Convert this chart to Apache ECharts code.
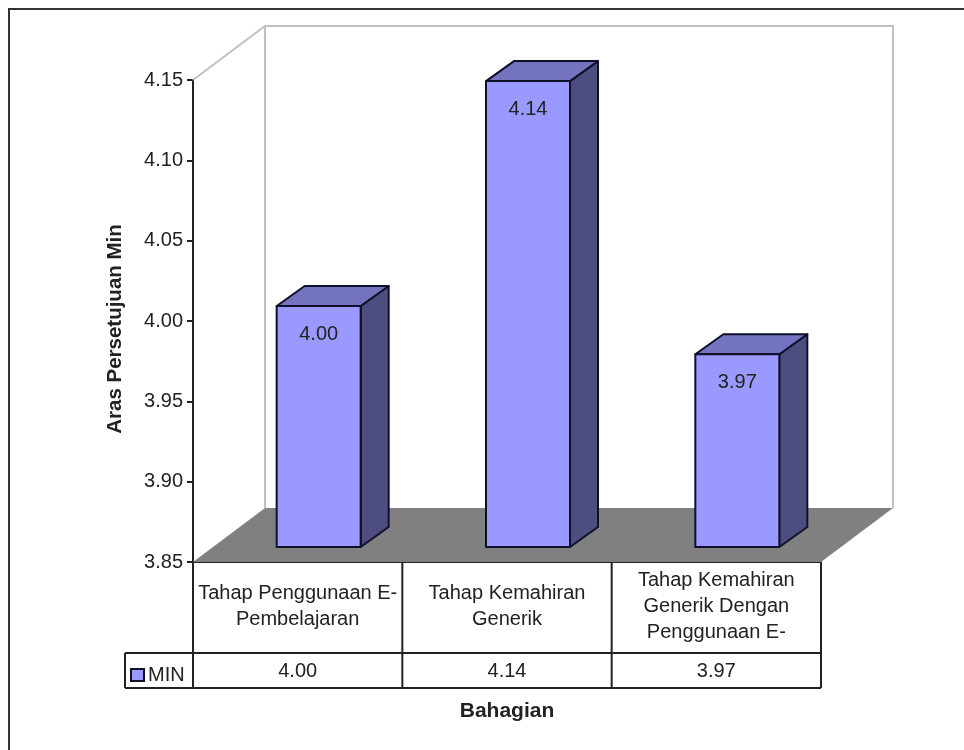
<!DOCTYPE html>
<html>
<head>
<meta charset="utf-8">
<style>
  html, body { margin: 0; padding: 0; background: #fff; }
  #chart { width: 964px; height: 750px; }
</style>
<script src="https://cdn.jsdelivr.net/npm/echarts@6/dist/echarts.min.js"></script>
</head>
<body>
<div id="chart"></div>
<script>
const categories = [
  'Tahap Penggunaan E-\nPembelajaran',
  'Tahap Kemahiran\nGenerik',
  'Tahap Kemahiran\nGenerik Dengan\nPenggunaan E-'
]
const minValues = [4.00, 4.14, 3.97]
const seriesName = 'MIN'

const font = '"Liberation Sans", Arial, sans-serif'
const inkColor = '#222'
const frontColor = '#9999ff'
const sideColor = '#4d4d80'
const topColor = '#7373bf'

// fake 3d offsets, in pixels
const floorDx = 72
const floorDy = -54
const barDx = 28
const barDy = -20
const barShiftX = 21
const barShiftY = -15
const barWidth = 84

// back wall and floor
function renderWalls(params, api) {
  const c = params.coordSys
  const l = c.x, r = c.x + c.width, t = c.y, b = c.y + c.height
  return {
    type: 'group',
    children: [
      {
        type: 'polyline',
        shape: { points: [[l, t], [l + floorDx, t + floorDy], [r + floorDx, t + floorDy], [r + floorDx, b + floorDy]] },
        style: { stroke: '#c0c0c0', lineWidth: 2, fill: null }
      },
      {
        type: 'line',
        shape: { x1: l + floorDx, y1: t + floorDy, x2: l + floorDx, y2: b + floorDy },
        style: { stroke: '#c0c0c0', lineWidth: 2 }
      },
      {
        type: 'polygon',
        shape: { points: [[l, b], [l + floorDx, b + floorDy], [r + floorDx, b + floorDy], [r, b]] },
        style: { fill: '#808080' }
      }
    ]
  }
}

// one box per category
function renderBar(params, api) {
  const p = api.coord([api.value(0), api.value(1)])
  const base = api.coord([api.value(0), 3.85])
  const x1 = p[0] + barShiftX - barWidth / 2
  const x2 = x1 + barWidth
  const yTop = p[1] + barShiftY
  const yBot = base[1] + barShiftY
  const border = { stroke: '#10102a', lineWidth: 2, lineJoin: 'round' }
  return {
    type: 'group',
    children: [
      {
        type: 'polygon',
        shape: { points: [[x2, yTop], [x2 + barDx, yTop + barDy], [x2 + barDx, yBot + barDy], [x2, yBot]] },
        style: Object.assign({ fill: sideColor }, border)
      },
      {
        type: 'polygon',
        shape: { points: [[x1, yTop], [x1 + barDx, yTop + barDy], [x2 + barDx, yTop + barDy], [x2, yTop]] },
        style: Object.assign({ fill: topColor }, border)
      },
      {
        type: 'rect',
        shape: { x: x1, y: yTop, width: barWidth, height: yBot - yTop },
        style: Object.assign({ fill: frontColor }, border)
      },
      {
        type: 'text',
        x: x1 + barWidth / 2,
        y: yTop + 28,
        style: {
          text: api.value(1).toFixed(2),
          fill: inkColor,
          font: '20px ' + font,
          align: 'center',
          verticalAlign: 'middle'
        }
      }
    ]
  }
}

// data table under the axis
function renderTable(params, api) {
  const c = params.coordSys
  const b = c.y + c.height
  const rowTop = b + 91
  const rowBot = b + 126
  const legendLeft = c.x - 68
  const line = (x1, y1, x2, y2) => ({
    type: 'line',
    shape: { x1: x1, y1: y1, x2: x2, y2: y2 },
    style: { stroke: '#222', lineWidth: 2 }
  })
  const kids = [
    line(c.x, b, c.x, rowBot),
    line(c.x + c.width, b, c.x + c.width, rowBot),
    line(legendLeft, rowTop, c.x + c.width, rowTop),
    line(legendLeft, rowBot, c.x + c.width, rowBot),
    line(legendLeft, rowTop, legendLeft, rowBot)
  ]
  minValues.forEach((v, i) => {
    const center = api.coord([i, 3.85])[0]
    if (i > 0) {
      const edge = center - c.width / categories.length / 2
      kids.push(line(edge, b, edge, rowBot))
    }
    kids.push({
      type: 'text',
      x: center,
      y: (rowTop + rowBot) / 2 + 1,
      style: {
        text: v.toFixed(2),
        fill: inkColor,
        font: '20px ' + font,
        align: 'center',
        verticalAlign: 'middle'
      }
    })
  })
  return { type: 'group', children: kids }
}

const chart = echarts.init(document.getElementById('chart'))
chart.setOption({
  backgroundColor: '#fff',
  animation: false,
  textStyle: { fontFamily: font },
  grid: { left: 193, right: 143, top: 80, bottom: 188 },
  legend: {
    left: 130,
    top: 665,
    data: [{ name: seriesName, icon: 'rect' }],
    itemWidth: 13,
    itemHeight: 12,
    itemGap: 0,
    padding: 0,
    selectedMode: false,
    itemStyle: { color: frontColor, borderColor: '#10102a', borderWidth: 2 },
    textStyle: { color: inkColor, fontSize: 20, padding: [0, 0, 8, -1] }
  },
  graphic: [{
    type: 'polyline',
    silent: true,
    shape: { points: [[9, 760], [9, 9], [964, 9]] },
    style: { stroke: '#333', lineWidth: 2, fill: null }
  }],
  xAxis: {
    type: 'category',
    data: categories,
    name: 'Bahagian',
    nameLocation: 'middle',
    nameGap: 139,
    nameTextStyle: { color: inkColor, fontWeight: 'bold', fontSize: 21 },
    axisLine: { lineStyle: { color: '#222', width: 2 } },
    axisTick: { show: false },
    axisLabel: {
      interval: 0,
      margin: 44,
      color: inkColor,
      fontSize: 20,
      lineHeight: 26,
      verticalAlign: 'middle',
      align: 'center'
    }
  },
  yAxis: {
    type: 'value',
    min: 3.85,
    max: 4.15,
    interval: 0.05,
    name: 'Aras Persetujuan Min',
    nameLocation: 'middle',
    nameGap: 67,
    nameTextStyle: { color: inkColor, fontWeight: 'bold', fontSize: 20.5, padding: [0, 16, 0, 0] },
    axisLine: { show: true, lineStyle: { color: '#222', width: 2 } },
    axisTick: { show: true, length: 6, lineStyle: { color: '#222', width: 2 } },
    axisLabel: { color: inkColor, fontSize: 20, margin: 10, formatter: v => v.toFixed(2) },
    splitLine: { show: false }
  },
  series: [
    {
      type: 'custom',
      name: 'walls',
      silent: true,
      clip: false,
      z: 1,
      renderItem: renderWalls,
      data: [[0, 3.85]]
    },
    {
      type: 'custom',
      name: seriesName,
      clip: false,
      z: 3,
      itemStyle: { color: frontColor },
      renderItem: renderBar,
      encode: { x: 0, y: 1 },
      data: minValues.map((v, i) => [i, v])
    },
    {
      type: 'custom',
      name: 'table',
      silent: true,
      clip: false,
      z: 2,
      renderItem: renderTable,
      data: [[0, 3.85]]
    }
  ]
})
</script>
</body>
</html>
